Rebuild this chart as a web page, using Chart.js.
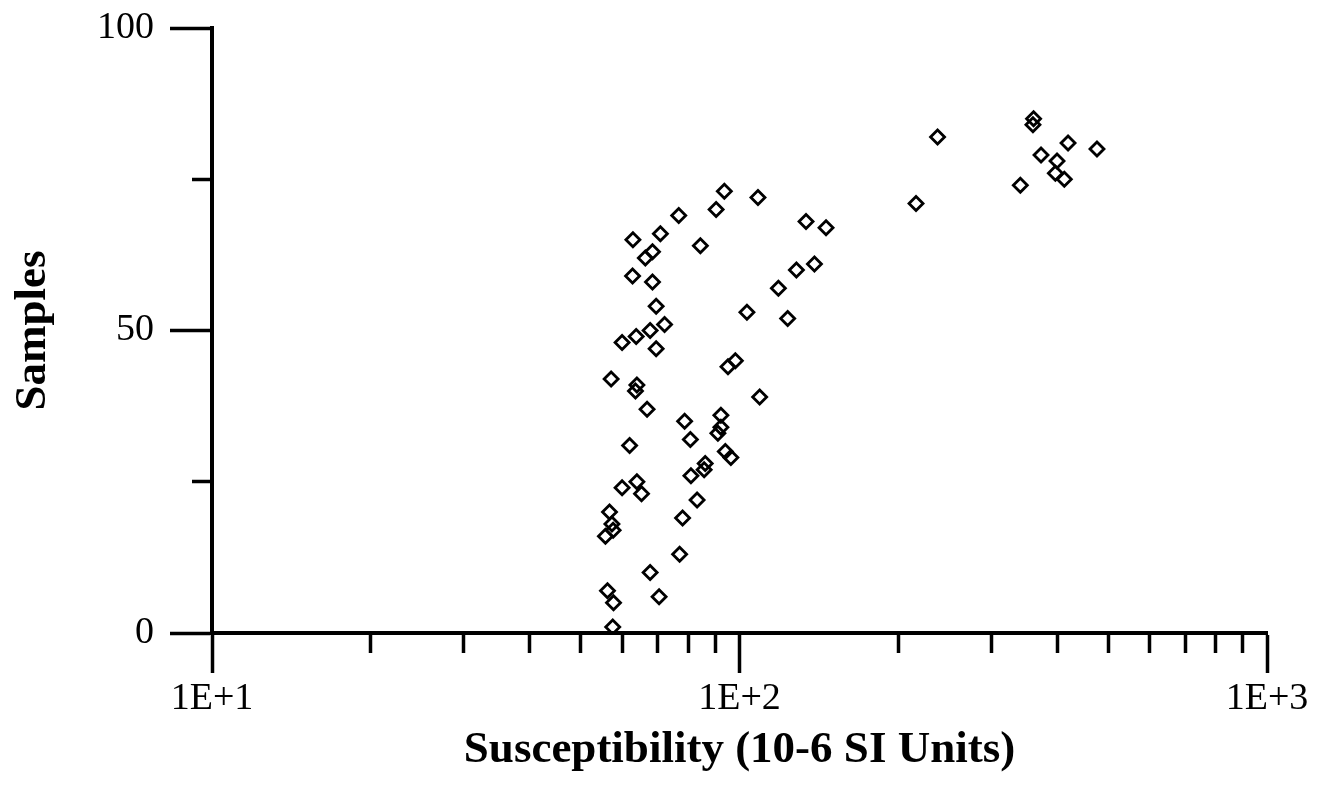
<!DOCTYPE html>
<html>
<head>
<meta charset="utf-8">
<title>Susceptibility vs Samples</title>
<script src="https://cdn.jsdelivr.net/npm/chart.js@4/dist/chart.umd.min.js"></script>
<style>
    html, body { margin: 0; padding: 0; background: #fff; }
    canvas { display: block; }
</style>
</head>
<body>
<canvas id="chart" width="1319" height="785"></canvas>
<script>
/* ---------------- DATA ---------------- */
// sample number (y) and magnetic susceptibility, 10-6 SI (x)
const sampleNo = [
    1, 5, 6, 7, 10, 13, 16, 17, 18, 19, 20, 22, 23, 24, 25, 26, 27, 28, 29, 30,
    31, 32, 33, 34, 35, 36, 37, 39, 40, 41, 42, 44, 45, 47, 48, 49, 50, 51, 52, 53,
    54, 57, 58, 59, 60, 61, 62, 63, 64, 65, 66, 67, 68, 69, 70, 71, 72, 73, 74, 75,
    76, 78, 79, 80, 81, 82, 84, 85
];
const susceptibility = [
    57.5, 57.7, 70.4, 56.2, 67.7, 77.0, 55.7, 57.6, 57.3, 78.0, 56.7, 83.1, 65.2, 59.9, 63.9, 80.9, 85.7, 86.1, 96.3, 94.0,
    61.9, 80.7, 91.0, 92.2, 78.7, 92.2, 66.8, 109.2, 63.5, 63.9, 57.1, 95.1, 98.2, 69.5, 59.9, 63.7, 67.7, 72.1, 123.4, 103.3,
    69.5, 118.5, 68.4, 62.7, 128.2, 138.7, 66.3, 68.4, 84.3, 62.8, 70.8, 145.9, 133.7, 76.7, 90.3, 216.1, 108.4, 93.6, 340.7, 412.8,
    397.0, 399.9, 372.9, 476.1, 419.6, 237.4, 360.0, 361.0
];

// tick positions
const xMajorTicks = [10, 100, 1000];
const xMinorTicks = [20, 30, 40, 50, 60, 70, 80, 90, 200, 300, 400, 500, 600, 700, 800, 900];
const yMajorTicks = [0, 50, 100];
const yMinorTicks = [25, 75];

const xTitle = 'Susceptibility (10-6 SI Units)';
const yTitle = 'Samples';

/* ---------------- STYLE ---------------- */
const INK = '#000';
const SERIF = "'Liberation Serif', 'Times New Roman', serif";

function setTicks(list) {
    return (scale) => { scale.ticks = list.map(v => ({ value: v })); };
}

// fixed box size, and no extra label padding pushing the plot area around
function fixSize(prop, size) {
    return (s) => {
        s[prop] = size;
        s.paddingTop = 0; s.paddingBottom = 0;
        s.paddingLeft = 0; s.paddingRight = 0;
    };
}

const points = susceptibility.map((x, i) => ({ x: x, y: sampleNo[i] }));

new Chart(document.getElementById('chart'), {
    type: 'scatter',
    data: {
        datasets: [{
            data: points,
            pointStyle: 'rectRot',
            pointRadius: 7,
            pointBorderWidth: 2.8,
            pointBorderColor: INK,
            pointBackgroundColor: 'rgba(0,0,0,0)'
        }]
    },
    options: {
        responsive: false,
        animation: false,
        layout: { padding: { left: 0, right: 52, top: 28, bottom: 0 } },
        plugins: { legend: { display: false }, tooltip: { enabled: false } },
        scales: {
            x: {
                type: 'logarithmic', position: 'bottom', weight: 1,
                min: 10, max: 1000,
                afterBuildTicks: setTicks(xMajorTicks),
                afterFit: fixSize('height', 152),
                grid: { drawOnChartArea: false, tickLength: 40, tickWidth: 3.5, tickColor: INK },
                border: { display: true, width: 4, color: INK },
                ticks: {
                    autoSkip: false, maxRotation: 0, padding: 3, color: INK,
                    font: { family: SERIF, size: 38 },
                    callback: (v) => '1E+' + Math.round(Math.log10(v))
                },
                title: {
                    display: true, text: xTitle, color: INK,
                    font: { family: SERIF, size: 45, weight: 'bold' },
                    padding: { top: 0, bottom: 8 }
                }
            },
            xMinor: {
                type: 'logarithmic', position: 'bottom', weight: 0,
                min: 10, max: 1000,
                afterBuildTicks: setTicks(xMinorTicks),
                afterFit: fixSize('height', 0),
                grid: { drawOnChartArea: false, tickLength: 20, tickWidth: 3.5, tickColor: INK },
                border: { display: false },
                ticks: { display: false }
            },
            y: {
                type: 'linear', position: 'left', weight: 1,
                min: 0, max: 100,
                afterBuildTicks: setTicks(yMajorTicks),
                afterFit: fixSize('width', 212),
                grid: { drawOnChartArea: false, tickLength: 42, tickWidth: 3.5, tickColor: INK },
                border: { display: true, width: 4, color: INK },
                ticks: {
                    autoSkip: false, padding: 16, color: INK,
                    font: { family: SERIF, size: 38 }
                },
                title: {
                    display: true, text: yTitle, color: INK,
                    font: { family: SERIF, size: 45, weight: 'bold' },
                    padding: { top: 6, bottom: 0 }
                }
            },
            yMinor: {
                type: 'linear', position: 'left', weight: 0,
                min: 0, max: 100,
                afterBuildTicks: setTicks(yMinorTicks),
                afterFit: fixSize('width', 0),
                grid: { drawOnChartArea: false, tickLength: 20, tickWidth: 3.5, tickColor: INK },
                border: { display: false },
                ticks: { display: false }
            }
        }
    }
});
</script>
</body>
</html>
